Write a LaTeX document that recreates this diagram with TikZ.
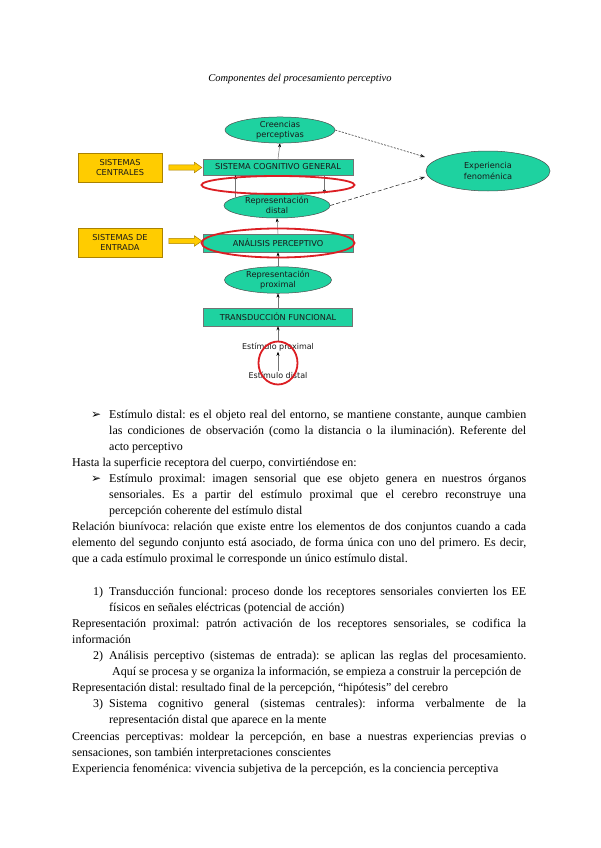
\documentclass[tikz,border=0pt]{standalone}
\usepackage{fontspec}
\setmainfont{Liberation Serif}
\newfontfamily\dsans{DejaVu Sans}
\usetikzlibrary{shapes.geometric,shapes.arrows,arrows.meta}
\definecolor{tealf}{RGB}{30,210,160}
\definecolor{yelf}{RGB}{255,204,0}
\definecolor{yeld}{RGB}{170,130,0}
\definecolor{redl}{RGB}{220,30,35}
\frenchspacing
\begin{document}
\frenchspacing
\begin{tikzpicture}[x=1pt,y=-1pt,
  dfont/.style={font=\dsans\fontsize{8.2}{10.5}\selectfont, text=black!90},
  ell/.style={ellipse, draw=black!70, line width=0.5pt, fill=tealf, inner sep=0pt, align=center, dfont},
  tbox/.style={rectangle, draw=black!55, line width=0.5pt, fill=tealf, inner sep=0pt, align=center, dfont},
  ybox/.style={rectangle, draw=yeld, line width=0.5pt, fill=yelf, inner sep=0pt, align=center, dfont,
               minimum width=84pt, minimum height=29pt},
  yarr/.style={single arrow, draw=yeld, fill=yelf, line width=0.5pt, inner sep=2.4pt,
               single arrow head extend=2.6pt, single arrow tip angle=70, minimum height=33pt},
  redell/.style={ellipse, draw=redl, line width=1.8pt, inner sep=0pt},
  plain/.style={inner sep=0.5pt, font=\dsans\fontsize{8}{10}\selectfont, text=black!90},
  varr/.style={draw=black!55, line width=0.5pt, -{Stealth[length=4pt,width=3pt,color=black]}},
  darr/.style={draw=black!85, line width=0.55pt, -{Stealth[length=5pt,width=3.6pt]}},
  body/.style={anchor=base west, inner sep=0pt, font=\fontsize{12}{14}\selectfont},
  bul/.style={anchor=base west, inner sep=0pt, font=\dsans\fontsize{12}{14}\selectfont},
  ttl/.style={inner sep=0pt, font=\itshape\fontsize{10.5}{12}\selectfont}]
\useasboundingbox[fill=white] (0,0) rectangle (600,848);

% title
\node[ttl] (title) at (300,79) {Componentes del procesamiento perceptivo};

% diagram nodes
\node[ell, minimum width=110pt, minimum height=26pt] (cr) at (280,130) {Creencias\\perceptivas};
\node[tbox, minimum width=150pt, minimum height=16pt] (scg) at (278,167) {SISTEMA COGNITIVO GENERAL};
\node[ell, minimum width=106pt, minimum height=25pt] (rd) at (277,205.5) {Representación\\distal};
\node[tbox, minimum width=150pt, minimum height=18pt] (ap) at (278,243) {ANÁLISIS PERCEPTIVO};
\node[ell, minimum width=107pt, minimum height=26pt] (rp) at (278,280) {Representación\\proximal};
\node[tbox, minimum width=149pt, minimum height=18pt] (tf) at (278,317) {TRANSDUCCIÓN FUNCIONAL};
\node[plain] (ep) at (278,347) {Estímulo proximal};
\node[plain] (ed) at (278,375) {Estímulo distal};
\node[ell, minimum width=124pt, minimum height=40pt] (ex) at (488,171) {Experiencia\\fenoménica};
\node[ybox] (sc) at (120,167.5) {SISTEMAS\\CENTRALES};
\node[ybox] (se) at (120,242.5) {SISTEMAS DE\\ENTRADA};
\node[yarr] (ya1) at (183.5,167.5) {};
\node[yarr] (ya2) at (183.5,241) {};

% vertical connectors
\draw[varr] (scg.north) -- (cr.south);
\draw[varr] (rd.169) -- (rd.169 |- scg.south);
\draw[varr, shorten >=6pt] (scg.south -| rd.7) -- (rd.7);
\draw[varr] (ap.north) -- (rd.south);
\draw[varr] (rp.north) -- (ap.south);
\draw[varr] (tf.north) -- (rp.south);
\draw[varr] (ep.north) -- (tf.south);
\draw[varr] (ed.north) -- (ep.south);

% dashed connectors to experiencia
\coordinate (exA) at (425,157);
\coordinate (exB) at (425,177);
\draw[darr, dash pattern=on 2pt off 1.4pt] (cr.east) -- (exA);
\draw[darr, dash pattern=on 4pt off 2.2pt] (rd.east) -- (exB);

% red highlight ellipses
\node[redell, minimum width=153pt, minimum height=18pt] (re1) at (278,185) {};
\node[redell, minimum width=153pt, minimum height=29pt] (re2) at (278,243) {};
\node[redell, minimum width=39pt, minimum height=43pt] (re3) at (278,363) {};

% body text
\node[bul] (b1) at (91,418) {➢};
\node[body] (t0) at (109,418) {\makebox[417pt][s]{Estímulo distal: es el objeto real del entorno, se mantiene constante, aunque cambien}};
\node[body] (t1) at (109,434.1) {\makebox[417pt][s]{las condiciones de observación (como la distancia o la iluminación). Referente del}};
\node[body] (t2) at (109,450.2) {acto perceptivo};
\node[body] (t3) at (72,466.3) {Hasta la superficie receptora del cuerpo, convirtiéndose en:};
\node[bul] (b2) at (91,482.4) {➢};
\node[body] (t4) at (109,482.4) {\makebox[417pt][s]{Estímulo proximal: imagen sensorial que ese objeto genera en nuestros órganos}};
\node[body] (t5) at (109,498.5) {\makebox[417pt][s]{sensoriales. Es a partir del estímulo proximal que el cerebro reconstruye una}};
\node[body] (t6) at (109,514.6) {percepción coherente del estímulo distal};
\node[body] (t7) at (72,530.7) {\makebox[454pt][s]{Relación biunívoca: relación que existe entre los elementos de dos conjuntos cuando a cada}};
\node[body] (t8) at (72,546.8) {\makebox[454pt][s]{elemento del segundo conjunto está asociado, de forma única con uno del primero. Es decir,}};
\node[body] (t9) at (72,562.9) {que a cada estímulo proximal le corresponde un único estímulo distal.};
\node[body] (n1) at (93,595.1) {1)};
\node[body] (t11) at (109,595.1) {\makebox[417pt][s]{Transducción funcional: proceso donde los receptores sensoriales convierten los EE}};
\node[body] (t12) at (109,611.2) {físicos en señales eléctricas (potencial de acción)};
\node[body] (t13) at (72,627.3) {\makebox[454pt][s]{Representación proximal: patrón activación de los receptores sensoriales, se codifica la}};
\node[body] (t14) at (72,643.4) {información};
\node[body] (n2) at (93,659.5) {2)};
\node[body] (t15) at (109,659.5) {\makebox[417pt][s]{Análisis perceptivo (sistemas de entrada): se aplican las reglas del procesamiento.}};
\node[body] (t16) at (112,675.6) {\makebox[409pt][s]{Aquí se procesa y se organiza la información, se empieza a construir la percepción de}};
\node[body] (t17) at (72,691.7) {Representación distal: resultado final de la percepción, “hipótesis” del cerebro};
\node[body] (n3) at (93,707.8) {3)};
\node[body] (t18) at (109,707.8) {\makebox[417pt][s]{Sistema cognitivo general (sistemas centrales): informa verbalmente de la}};
\node[body] (t19) at (109,723.9) {representación distal que aparece en la mente};
\node[body] (t20) at (72,740) {\makebox[454pt][s]{Creencias perceptivas: moldear la percepción, en base a nuestras experiencias previas o}};
\node[body] (t21) at (72,756.1) {sensaciones, son también interpretaciones conscientes};
\node[body] (t22) at (72,772.2) {Experiencia fenoménica: vivencia subjetiva de la percepción, es la conciencia perceptiva};
\end{tikzpicture}
\end{document}
